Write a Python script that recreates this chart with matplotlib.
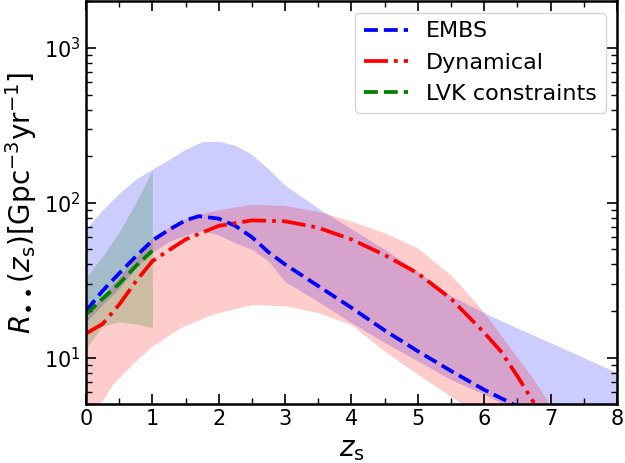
import numpy as np
import matplotlib.pyplot as plt

# -------------------- Data --------------------
# EMBS median and band
z_embs = [0, 0.25, 0.5, 0.75, 1.0, 1.25, 1.5, 1.7, 2.0, 2.25, 2.5, 2.75, 3.0, 3.5, 4.0, 4.5, 5.0, 5.5, 6.0, 6.5]
r_embs = [20, 27, 35, 45, 57, 67, 77, 82, 79, 71, 60, 48, 40, 29, 21, 15, 11, 8.2, 6.2, 4.85]

z_embs_band = [0, 0.25, 0.5, 0.75, 1.0, 1.25, 1.5, 1.75, 2.0, 2.25, 2.5, 2.75, 3.0, 3.5, 4.0,
               4.5, 5.0, 5.5, 6.0, 6.5, 7.0, 7.5, 8.0]
embs_hi = [68, 90, 115, 142, 165, 190, 222, 248, 250, 235, 205, 165, 130, 92, 68,
           50, 36, 25, 19.5, 15.5, 12.5, 10, 8.0]
embs_lo = [17, 22, 28, 38, 48, 56, 62, 66, 62, 55, 50, 42, 31, 23, 16.8,
           12.5, 9.5, 7.2, 5.8, 4.5, 3.5, 3.0, 2.5]

# Dynamical median and band
z_dyn = [0, 0.25, 0.5, 0.75, 1.0, 1.5, 2.0, 2.5, 3.0, 3.5, 4.0, 4.5, 5.0, 5.5, 6.0, 6.25, 6.5, 6.75]
r_dyn = [14.3, 16.5, 22, 31, 42, 58, 71, 77, 76, 69, 58, 46, 35, 24, 14.5, 11, 7.6, 5.1]

z_dyn_band = [0, 0.21, 0.41, 0.71, 1.0, 1.42, 1.92, 2.5, 3.0, 3.5, 4.0, 4.5, 5.0, 5.5, 5.75,
              6.0, 6.25, 6.5, 6.75, 7.0]
dyn_hi = [18, 24, 30, 42, 60, 77, 89, 98, 96, 88, 76, 64, 51, 34, 26,
          19.5, 14, 10, 7.2, 4.9]
dyn_lo = [3.5, 5.0, 6.8, 9.2, 11.9, 15.6, 19.2, 22, 21.6, 19.5, 16.3, 11, 7.8, 5.6, 4.8,
          4.0, 3.5, 3.0, 2.5, 2.0]

# LVK constraints
z_lvk = [0, 0.25, 0.5, 0.75, 1.0]
r_lvk = [19, 24, 30, 39, 49]
lvk_hi = [33, 45, 65, 100, 162]
lvk_lo = [11.5, 16, 17, 16.5, 15.6]

# -------------------- Plot --------------------
fig, ax = plt.subplots(figsize=(6.25, 4.63), dpi=100)
fig.subplots_adjust(left=0.1376, right=0.987, bottom=0.127, top=0.997)

ax.fill_between(z_embs_band, embs_lo, embs_hi, color='blue', alpha=0.2, lw=0)
ax.fill_between(z_dyn_band, dyn_lo, dyn_hi, color='red', alpha=0.2, lw=0)
ax.fill_between(z_lvk, lvk_lo, lvk_hi, color='green', alpha=0.2, lw=0)

ax.plot(z_embs, r_embs, '--', color='blue', lw=2.7, label='EMBS')
ax.plot(z_dyn, r_dyn, '-.', color='red', lw=2.7, label='Dynamical')
ax.plot(z_lvk, r_lvk, '--', color='green', lw=2.7, label='LVK constraints')

ax.set_yscale('log')
ax.set_xlim(0, 8)
ax.set_ylim(5, 2000)
ax.set_xlabel(r'$z_{\rm s}$', fontsize=20)
ax.set_ylabel(r'$R_{\bullet\bullet}(z_{\rm s})[{\rm Gpc^{-3}yr^{-1}}]$', fontsize=20)

ax.set_xticks(np.arange(0, 9, 1))
ax.set_xticks(np.arange(0, 8.5, 0.5), minor=True)
ax.tick_params(which='both', direction='in', top=True, right=True, labelsize=15)
ax.tick_params(which='major', length=7, width=1.2)
ax.tick_params(which='minor', length=4, width=1)
for s in ax.spines.values():
    s.set_linewidth(1.8)

ax.legend(loc='upper right', fontsize=16, handlelength=2.0)

plt.savefig('out.png', dpi=100)
